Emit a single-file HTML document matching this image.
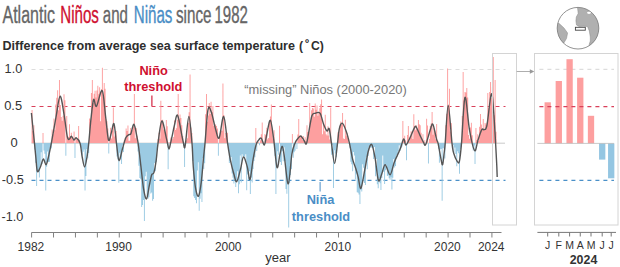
<!DOCTYPE html>
<html><head><meta charset="utf-8"><style>
html,body{margin:0;padding:0;background:#fff;width:620px;height:267px;overflow:hidden}
svg{display:block}
text{font-family:"Liberation Sans", sans-serif}
</style></head><body>
<svg width="620" height="267" viewBox="0 0 620 267">
<g font-size="23" fill="#666" stroke-width="0.35">
<text x="2.5" y="23" textLength="52.5" lengthAdjust="spacingAndGlyphs" stroke="#666">Atlantic</text>
<text x="60.3" y="23" textLength="38.6" lengthAdjust="spacingAndGlyphs" fill="#cf1030" stroke="#cf1030">Niños</text>
<text x="102.8" y="23" textLength="25.2" lengthAdjust="spacingAndGlyphs" stroke="#666">and</text>
<text x="133.8" y="23" textLength="38.6" lengthAdjust="spacingAndGlyphs" fill="#4a8ec6" stroke="#4a8ec6">Niñas</text>
<text x="176" y="23" textLength="35.5" lengthAdjust="spacingAndGlyphs" stroke="#666">since</text>
<text x="214.5" y="23" textLength="33.4" lengthAdjust="spacingAndGlyphs" stroke="#666">1982</text>
</g>
<text x="2.5" y="49.5" font-size="12.2" font-weight="bold" fill="#2e2e2e" textLength="292.5" lengthAdjust="spacingAndGlyphs">Difference from average sea surface temperature</text>
<text x="299" y="49.5" font-size="12.2" font-weight="bold" fill="#2e2e2e">(</text>
<text x="304.8" y="47" font-size="11.5" fill="#2e2e2e" stroke="#2e2e2e" stroke-width="0.3">°</text>
<text x="311" y="49.5" font-size="12.2" font-weight="bold" fill="#2e2e2e">C)</text>

<g font-size="12.5" fill="#333">
<text x="4.6" y="73" textLength="17.6" lengthAdjust="spacingAndGlyphs">1.0</text>
<text x="4.2" y="109.6" textLength="17.9" lengthAdjust="spacingAndGlyphs">0.5</text>
<text x="10.5" y="146.6" textLength="7.2" lengthAdjust="spacingAndGlyphs">0</text>
<text x="1.8" y="184.2" textLength="22" lengthAdjust="spacingAndGlyphs">-0.5</text>
<text x="1.6" y="220.6" textLength="21.8" lengthAdjust="spacingAndGlyphs">-1.0</text>
</g>

<line x1="31.5" y1="143.2" x2="505" y2="143.2" stroke="#bbb" stroke-width="0.8"/>
<line x1="31.5" y1="69.5" x2="505.5" y2="69.5" stroke="#ddd" stroke-width="1.2" stroke-dasharray="4 4"/>
<line x1="31.5" y1="106.5" x2="505.5" y2="106.5" stroke="#d9405a" stroke-width="1.2" stroke-dasharray="4 4"/>
<line x1="31.5" y1="180.3" x2="505.5" y2="180.3" stroke="#4a90c8" stroke-width="1.2" stroke-dasharray="4 4"/>
<path d="M31.58 143.0V110.00h0.959V143.0zM32.49 143.0V130.97h0.959V143.0zM33.40 143.0V125.31h0.959V143.0zM42.54 143.0V133.00h0.959V143.0zM51.67 143.0V129.48h0.959V143.0zM52.58 143.0V134.34h0.959V143.0zM53.50 143.0V118.55h0.959V143.0zM54.41 143.0V130.28h0.959V143.0zM55.32 143.0V104.45h0.959V143.0zM56.24 143.0V97.85h0.959V143.0zM57.15 143.0V90.27h0.959V143.0zM58.06 143.0V110.34h0.959V143.0zM58.98 143.0V80.00h0.959V143.0zM59.89 143.0V105.06h0.959V143.0zM60.80 143.0V117.08h0.959V143.0zM61.72 143.0V120.76h0.959V143.0zM62.63 143.0V115.70h0.959V143.0zM63.54 143.0V94.29h0.959V143.0zM64.46 143.0V100.34h0.959V143.0zM66.28 143.0V115.93h0.959V143.0zM67.20 143.0V138.81h0.959V143.0zM68.11 143.0V136.80h0.959V143.0zM69.02 143.0V124.30h0.959V143.0zM69.94 143.0V136.31h0.959V143.0zM70.85 143.0V132.74h0.959V143.0zM71.76 143.0V136.67h0.959V143.0zM72.68 143.0V140.10h0.959V143.0zM73.59 143.0V131.54h0.959V143.0zM75.42 143.0V138.61h0.959V143.0zM76.33 143.0V139.51h0.959V143.0zM77.24 143.0V139.12h0.959V143.0zM78.16 143.0V126.00h0.959V143.0zM79.07 143.0V141.79h0.959V143.0zM89.12 143.0V118.42h0.959V143.0zM90.03 143.0V126.38h0.959V143.0zM90.94 143.0V93.07h0.959V143.0zM91.86 143.0V80.00h0.959V143.0zM92.77 143.0V102.97h0.959V143.0zM93.68 143.0V93.71h0.959V143.0zM94.60 143.0V90.65h0.959V143.0zM95.51 143.0V97.48h0.959V143.0zM96.42 143.0V90.45h0.959V143.0zM97.34 143.0V85.66h0.959V143.0zM98.25 143.0V94.28h0.959V143.0zM99.16 143.0V87.28h0.959V143.0zM100.08 143.0V121.16h0.959V143.0zM100.99 143.0V89.22h0.959V143.0zM101.90 143.0V67.80h0.959V143.0zM102.82 143.0V97.14h0.959V143.0zM103.73 143.0V83.07h0.959V143.0zM104.64 143.0V88.72h0.959V143.0zM105.56 143.0V119.45h0.959V143.0zM106.47 143.0V121.15h0.959V143.0zM107.38 143.0V128.61h0.959V143.0zM109.21 143.0V137.17h0.959V143.0zM110.12 143.0V127.77h0.959V143.0zM111.04 143.0V138.46h0.959V143.0zM111.95 143.0V130.57h0.959V143.0zM112.86 143.0V107.50h0.959V143.0zM113.78 143.0V136.44h0.959V143.0zM114.69 143.0V134.97h0.959V143.0zM115.60 143.0V130.92h0.959V143.0zM123.82 143.0V140.16h0.959V143.0zM124.74 143.0V137.64h0.959V143.0zM125.65 143.0V128.38h0.959V143.0zM126.56 143.0V131.00h0.959V143.0zM127.48 143.0V125.40h0.959V143.0zM128.39 143.0V140.68h0.959V143.0zM129.30 143.0V140.69h0.959V143.0zM130.22 143.0V127.94h0.959V143.0zM131.13 143.0V130.36h0.959V143.0zM132.04 143.0V130.16h0.959V143.0zM132.96 143.0V126.52h0.959V143.0zM133.87 143.0V94.00h0.959V143.0zM134.78 143.0V138.23h0.959V143.0zM135.70 143.0V127.96h0.959V143.0zM136.61 143.0V135.85h0.959V143.0zM157.62 143.0V139.09h0.959V143.0zM158.53 143.0V132.71h0.959V143.0zM159.44 143.0V138.80h0.959V143.0zM160.36 143.0V100.70h0.959V143.0zM161.27 143.0V120.51h0.959V143.0zM162.18 143.0V119.68h0.959V143.0zM163.10 143.0V129.56h0.959V143.0zM164.01 143.0V129.27h0.959V143.0zM164.92 143.0V135.24h0.959V143.0zM165.84 143.0V120.00h0.959V143.0zM166.75 143.0V126.28h0.959V143.0zM168.58 143.0V142.03h0.959V143.0zM169.49 143.0V142.92h0.959V143.0zM170.40 143.0V137.39h0.959V143.0zM171.32 143.0V138.35h0.959V143.0zM172.23 143.0V139.28h0.959V143.0zM173.14 143.0V137.08h0.959V143.0zM174.06 143.0V120.50h0.959V143.0zM174.97 143.0V130.02h0.959V143.0zM175.88 143.0V128.30h0.959V143.0zM176.80 143.0V119.69h0.959V143.0zM177.71 143.0V94.00h0.959V143.0zM178.62 143.0V119.40h0.959V143.0zM179.54 143.0V114.42h0.959V143.0zM180.45 143.0V117.94h0.959V143.0zM181.36 143.0V125.35h0.959V143.0zM182.28 143.0V136.03h0.959V143.0zM183.19 143.0V141.58h0.959V143.0zM185.93 143.0V140.17h0.959V143.0zM186.84 143.0V138.36h0.959V143.0zM187.76 143.0V122.89h0.959V143.0zM188.67 143.0V112.15h0.959V143.0zM189.58 143.0V74.50h0.959V143.0zM190.50 143.0V127.52h0.959V143.0zM191.41 143.0V132.91h0.959V143.0zM205.11 143.0V114.29h0.959V143.0zM206.02 143.0V94.00h0.959V143.0zM206.94 143.0V121.69h0.959V143.0zM207.85 143.0V115.42h0.959V143.0zM208.76 143.0V103.11h0.959V143.0zM209.68 143.0V114.11h0.959V143.0zM210.59 143.0V101.79h0.959V143.0zM211.50 143.0V112.00h0.959V143.0zM212.42 143.0V106.12h0.959V143.0zM213.33 143.0V125.75h0.959V143.0zM214.24 143.0V124.39h0.959V143.0zM215.16 143.0V124.62h0.959V143.0zM216.07 143.0V125.89h0.959V143.0zM216.98 143.0V128.52h0.959V143.0zM218.81 143.0V135.46h0.959V143.0zM219.72 143.0V132.91h0.959V143.0zM220.64 143.0V130.62h0.959V143.0zM221.55 143.0V130.85h0.959V143.0zM222.46 143.0V83.60h0.959V143.0zM223.38 143.0V114.89h0.959V143.0zM224.29 143.0V138.20h0.959V143.0zM225.20 143.0V133.12h0.959V143.0zM226.12 143.0V137.37h0.959V143.0zM227.03 143.0V132.69h0.959V143.0zM255.34 143.0V128.00h0.959V143.0zM257.17 143.0V142.30h0.959V143.0zM258.08 143.0V142.15h0.959V143.0zM259.91 143.0V140.18h0.959V143.0zM260.82 143.0V134.34h0.959V143.0zM261.74 143.0V122.50h0.959V143.0zM262.65 143.0V141.70h0.959V143.0zM264.48 143.0V134.12h0.959V143.0zM265.39 143.0V134.98h0.959V143.0zM266.30 143.0V127.81h0.959V143.0zM267.22 143.0V139.38h0.959V143.0zM268.13 143.0V138.07h0.959V143.0zM269.04 143.0V121.18h0.959V143.0zM269.96 143.0V116.42h0.959V143.0zM270.87 143.0V104.50h0.959V143.0zM271.78 143.0V129.54h0.959V143.0zM272.70 143.0V138.84h0.959V143.0zM273.61 143.0V130.32h0.959V143.0zM279.09 143.0V125.80h0.959V143.0zM291.88 143.0V134.00h0.959V143.0zM295.53 143.0V141.02h0.959V143.0zM297.36 143.0V134.44h0.959V143.0zM298.27 143.0V119.10h0.959V143.0zM299.18 143.0V135.69h0.959V143.0zM300.10 143.0V136.11h0.959V143.0zM301.01 143.0V135.43h0.959V143.0zM301.92 143.0V140.01h0.959V143.0zM302.84 143.0V136.02h0.959V143.0zM303.75 143.0V141.09h0.959V143.0zM304.66 143.0V137.33h0.959V143.0zM305.58 143.0V140.90h0.959V143.0zM306.49 143.0V125.27h0.959V143.0zM307.40 143.0V131.91h0.959V143.0zM308.32 143.0V133.33h0.959V143.0zM309.23 143.0V103.00h0.959V143.0zM310.14 143.0V120.97h0.959V143.0zM311.06 143.0V110.29h0.959V143.0zM311.97 143.0V107.99h0.959V143.0zM312.88 143.0V108.51h0.959V143.0zM313.80 143.0V116.78h0.959V143.0zM314.71 143.0V103.40h0.959V143.0zM315.62 143.0V109.70h0.959V143.0zM316.54 143.0V105.43h0.959V143.0zM317.45 143.0V115.67h0.959V143.0zM318.36 143.0V112.19h0.959V143.0zM319.28 143.0V108.31h0.959V143.0zM320.19 143.0V104.35h0.959V143.0zM321.10 143.0V99.60h0.959V143.0zM322.02 143.0V134.19h0.959V143.0zM322.93 143.0V124.38h0.959V143.0zM323.84 143.0V131.35h0.959V143.0zM324.76 143.0V114.76h0.959V143.0zM325.67 143.0V134.35h0.959V143.0zM326.58 143.0V135.48h0.959V143.0zM327.50 143.0V126.30h0.959V143.0zM328.41 143.0V135.41h0.959V143.0zM329.32 143.0V139.61h0.959V143.0zM330.24 143.0V107.50h0.959V143.0zM337.54 143.0V132.13h0.959V143.0zM338.46 143.0V134.59h0.959V143.0zM339.37 143.0V126.21h0.959V143.0zM340.28 143.0V121.55h0.959V143.0zM341.20 143.0V124.48h0.959V143.0zM342.11 143.0V113.10h0.959V143.0zM343.02 143.0V138.61h0.959V143.0zM343.94 143.0V139.06h0.959V143.0zM344.85 143.0V119.68h0.959V143.0zM345.76 143.0V135.69h0.959V143.0zM346.68 143.0V133.16h0.959V143.0zM347.59 143.0V138.21h0.959V143.0zM402.39 143.0V121.00h0.959V143.0zM403.30 143.0V139.58h0.959V143.0zM404.22 143.0V135.68h0.959V143.0zM405.13 143.0V140.18h0.959V143.0zM406.96 143.0V135.01h0.959V143.0zM407.87 143.0V126.00h0.959V143.0zM408.78 143.0V141.29h0.959V143.0zM409.70 143.0V136.86h0.959V143.0zM410.61 143.0V131.22h0.959V143.0zM411.52 143.0V132.52h0.959V143.0zM412.44 143.0V139.00h0.959V143.0zM413.35 143.0V114.20h0.959V143.0zM414.26 143.0V125.89h0.959V143.0zM415.18 143.0V130.22h0.959V143.0zM416.09 143.0V125.22h0.959V143.0zM417.00 143.0V129.39h0.959V143.0zM417.92 143.0V120.00h0.959V143.0zM418.83 143.0V124.13h0.959V143.0zM419.74 143.0V125.36h0.959V143.0zM420.66 143.0V132.86h0.959V143.0zM421.57 143.0V138.72h0.959V143.0zM422.48 143.0V134.35h0.959V143.0zM423.40 143.0V142.43h0.959V143.0zM424.31 143.0V140.14h0.959V143.0zM425.22 143.0V142.94h0.959V143.0zM426.14 143.0V118.70h0.959V143.0zM427.05 143.0V125.38h0.959V143.0zM428.88 143.0V139.07h0.959V143.0zM429.79 143.0V125.88h0.959V143.0zM430.70 143.0V123.46h0.959V143.0zM431.62 143.0V112.00h0.959V143.0zM432.53 143.0V134.85h0.959V143.0zM433.44 143.0V128.36h0.959V143.0zM434.36 143.0V130.75h0.959V143.0zM435.27 143.0V139.31h0.959V143.0zM436.18 143.0V124.00h0.959V143.0zM437.10 143.0V142.64h0.959V143.0zM445.32 143.0V125.24h0.959V143.0zM446.23 143.0V113.79h0.959V143.0zM447.14 143.0V68.50h0.959V143.0zM448.06 143.0V107.13h0.959V143.0zM448.97 143.0V88.70h0.959V143.0zM449.88 143.0V131.61h0.959V143.0zM450.80 143.0V122.94h0.959V143.0zM461.76 143.0V115.99h0.959V143.0zM462.67 143.0V71.90h0.959V143.0zM463.58 143.0V100.61h0.959V143.0zM464.50 143.0V92.00h0.959V143.0zM465.41 143.0V92.50h0.959V143.0zM466.32 143.0V87.93h0.959V143.0zM467.24 143.0V97.43h0.959V143.0zM468.15 143.0V135.06h0.959V143.0zM469.06 143.0V138.63h0.959V143.0zM469.98 143.0V127.41h0.959V143.0zM470.89 143.0V122.63h0.959V143.0zM471.80 143.0V135.27h0.959V143.0zM475.46 143.0V128.00h0.959V143.0zM476.37 143.0V140.07h0.959V143.0zM477.28 143.0V134.24h0.959V143.0zM478.20 143.0V140.80h0.959V143.0zM479.11 143.0V126.83h0.959V143.0zM480.02 143.0V114.00h0.959V143.0zM480.94 143.0V124.48h0.959V143.0zM481.85 143.0V128.73h0.959V143.0zM482.76 143.0V119.00h0.959V143.0zM483.68 143.0V129.66h0.959V143.0zM484.59 143.0V122.94h0.959V143.0zM485.50 143.0V124.42h0.959V143.0zM486.42 143.0V122.79h0.959V143.0zM487.33 143.0V93.07h0.959V143.0zM488.24 143.0V108.16h0.959V143.0zM489.16 143.0V92.08h0.959V143.0zM490.07 143.0V82.00h0.959V143.0zM490.98 143.0V98.36h0.959V143.0zM491.90 143.0V87.32h0.959V143.0zM492.81 143.0V57.00h0.959V143.0zM493.72 143.0V115.20h0.959V143.0zM494.64 143.0V80.00h0.959V143.0zM495.55 143.0V131.82h0.959V143.0z" fill="#fd9f9f"/>
<path d="M34.32 143.0V149.39h0.959V143.0zM35.23 143.0V162.79h0.959V143.0zM36.14 143.0V186.00h0.959V143.0zM37.06 143.0V171.30h0.959V143.0zM37.97 143.0V171.47h0.959V143.0zM38.88 143.0V177.40h0.959V143.0zM39.80 143.0V167.68h0.959V143.0zM40.71 143.0V152.36h0.959V143.0zM41.62 143.0V164.37h0.959V143.0zM43.45 143.0V150.41h0.959V143.0zM44.36 143.0V153.75h0.959V143.0zM45.28 143.0V190.60h0.959V143.0zM46.19 143.0V166.68h0.959V143.0zM47.10 143.0V151.57h0.959V143.0zM48.02 143.0V162.04h0.959V143.0zM48.93 143.0V161.79h0.959V143.0zM49.84 143.0V147.68h0.959V143.0zM50.76 143.0V148.42h0.959V143.0zM65.37 143.0V155.70h0.959V143.0zM74.50 143.0V158.00h0.959V143.0zM79.98 143.0V145.47h0.959V143.0zM80.90 143.0V148.38h0.959V143.0zM81.81 143.0V155.40h0.959V143.0zM82.72 143.0V151.67h0.959V143.0zM83.64 143.0V149.47h0.959V143.0zM84.55 143.0V190.60h0.959V143.0zM85.46 143.0V175.97h0.959V143.0zM86.38 143.0V148.96h0.959V143.0zM87.29 143.0V158.28h0.959V143.0zM88.20 143.0V153.00h0.959V143.0zM108.30 143.0V153.50h0.959V143.0zM116.52 143.0V156.55h0.959V143.0zM117.43 143.0V159.39h0.959V143.0zM118.34 143.0V182.70h0.959V143.0zM119.26 143.0V152.68h0.959V143.0zM120.17 143.0V158.40h0.959V143.0zM121.08 143.0V164.06h0.959V143.0zM122.00 143.0V145.49h0.959V143.0zM122.91 143.0V152.00h0.959V143.0zM137.52 143.0V151.52h0.959V143.0zM138.44 143.0V165.64h0.959V143.0zM139.35 143.0V178.07h0.959V143.0zM140.26 143.0V179.23h0.959V143.0zM141.18 143.0V206.89h0.959V143.0zM142.09 143.0V205.00h0.959V143.0zM143.00 143.0V200.07h0.959V143.0zM143.92 143.0V221.00h0.959V143.0zM144.83 143.0V176.32h0.959V143.0zM145.74 143.0V171.86h0.959V143.0zM146.66 143.0V196.02h0.959V143.0zM147.57 143.0V198.71h0.959V143.0zM148.48 143.0V197.32h0.959V143.0zM149.40 143.0V184.60h0.959V143.0zM150.31 143.0V193.61h0.959V143.0zM151.22 143.0V192.60h0.959V143.0zM152.14 143.0V200.83h0.959V143.0zM153.05 143.0V199.00h0.959V143.0zM153.96 143.0V163.18h0.959V143.0zM154.88 143.0V171.17h0.959V143.0zM155.79 143.0V161.92h0.959V143.0zM156.70 143.0V149.68h0.959V143.0zM167.66 143.0V169.20h0.959V143.0zM184.10 143.0V167.00h0.959V143.0zM185.02 143.0V144.27h0.959V143.0zM192.32 143.0V161.02h0.959V143.0zM193.24 143.0V196.17h0.959V143.0zM194.15 143.0V198.02h0.959V143.0zM195.06 143.0V200.06h0.959V143.0zM195.98 143.0V203.32h0.959V143.0zM196.89 143.0V170.54h0.959V143.0zM197.80 143.0V162.15h0.959V143.0zM198.72 143.0V210.80h0.959V143.0zM199.63 143.0V198.67h0.959V143.0zM200.54 143.0V193.16h0.959V143.0zM201.46 143.0V201.99h0.959V143.0zM202.37 143.0V158.20h0.959V143.0zM203.28 143.0V168.99h0.959V143.0zM204.20 143.0V163.26h0.959V143.0zM217.90 143.0V155.70h0.959V143.0zM227.94 143.0V150.34h0.959V143.0zM228.86 143.0V163.12h0.959V143.0zM229.77 143.0V161.32h0.959V143.0zM230.68 143.0V156.99h0.959V143.0zM231.60 143.0V173.50h0.959V143.0zM232.51 143.0V177.67h0.959V143.0zM233.42 143.0V183.43h0.959V143.0zM234.34 143.0V179.73h0.959V143.0zM235.25 143.0V187.00h0.959V143.0zM236.16 143.0V181.10h0.959V143.0zM237.08 143.0V171.15h0.959V143.0zM237.99 143.0V193.33h0.959V143.0zM238.90 143.0V184.27h0.959V143.0zM239.82 143.0V155.47h0.959V143.0zM240.73 143.0V182.46h0.959V143.0zM241.64 143.0V154.15h0.959V143.0zM242.56 143.0V156.45h0.959V143.0zM243.47 143.0V156.26h0.959V143.0zM244.38 143.0V158.31h0.959V143.0zM245.30 143.0V154.15h0.959V143.0zM246.21 143.0V190.24h0.959V143.0zM247.12 143.0V174.47h0.959V143.0zM248.04 143.0V180.05h0.959V143.0zM248.95 143.0V171.23h0.959V143.0zM249.86 143.0V194.00h0.959V143.0zM250.78 143.0V177.51h0.959V143.0zM251.69 143.0V182.56h0.959V143.0zM252.60 143.0V168.99h0.959V143.0zM253.52 143.0V161.05h0.959V143.0zM254.43 143.0V157.16h0.959V143.0zM256.26 143.0V150.98h0.959V143.0zM259.00 143.0V145.32h0.959V143.0zM263.56 143.0V144.10h0.959V143.0zM274.52 143.0V155.97h0.959V143.0zM275.44 143.0V194.00h0.959V143.0zM276.35 143.0V167.03h0.959V143.0zM277.26 143.0V151.14h0.959V143.0zM278.18 143.0V154.87h0.959V143.0zM280.00 143.0V162.00h0.959V143.0zM280.92 143.0V165.09h0.959V143.0zM281.83 143.0V151.00h0.959V143.0zM282.74 143.0V161.18h0.959V143.0zM283.66 143.0V147.21h0.959V143.0zM284.57 143.0V161.31h0.959V143.0zM285.48 143.0V189.07h0.959V143.0zM286.40 143.0V193.71h0.959V143.0zM287.31 143.0V182.91h0.959V143.0zM288.22 143.0V227.60h0.959V143.0zM289.14 143.0V183.23h0.959V143.0zM290.05 143.0V175.12h0.959V143.0zM290.96 143.0V169.25h0.959V143.0zM292.79 143.0V157.82h0.959V143.0zM293.70 143.0V152.33h0.959V143.0zM294.62 143.0V150.87h0.959V143.0zM296.44 143.0V149.07h0.959V143.0zM331.15 143.0V154.69h0.959V143.0zM332.06 143.0V145.35h0.959V143.0zM332.98 143.0V188.00h0.959V143.0zM333.89 143.0V150.32h0.959V143.0zM334.80 143.0V153.55h0.959V143.0zM335.72 143.0V157.23h0.959V143.0zM336.63 143.0V147.31h0.959V143.0zM348.50 143.0V143.75h0.959V143.0zM349.42 143.0V147.65h0.959V143.0zM350.33 143.0V161.74h0.959V143.0zM351.24 143.0V164.29h0.959V143.0zM352.16 143.0V171.29h0.959V143.0zM353.07 143.0V151.95h0.959V143.0zM353.98 143.0V155.50h0.959V143.0zM354.90 143.0V179.56h0.959V143.0zM355.81 143.0V173.50h0.959V143.0zM356.72 143.0V192.31h0.959V143.0zM357.64 143.0V192.68h0.959V143.0zM358.55 143.0V194.49h0.959V143.0zM359.46 143.0V204.00h0.959V143.0zM360.38 143.0V189.66h0.959V143.0zM361.29 143.0V191.46h0.959V143.0zM362.20 143.0V164.17h0.959V143.0zM363.12 143.0V167.87h0.959V143.0zM364.03 143.0V182.95h0.959V143.0zM364.94 143.0V185.07h0.959V143.0zM365.86 143.0V157.24h0.959V143.0zM366.77 143.0V169.25h0.959V143.0zM367.68 143.0V155.97h0.959V143.0zM368.60 143.0V146.95h0.959V143.0zM369.51 143.0V147.30h0.959V143.0zM370.42 143.0V147.68h0.959V143.0zM371.34 143.0V147.38h0.959V143.0zM372.25 143.0V147.42h0.959V143.0zM373.16 143.0V158.92h0.959V143.0zM374.08 143.0V146.95h0.959V143.0zM374.99 143.0V176.23h0.959V143.0zM375.90 143.0V158.90h0.959V143.0zM376.82 143.0V184.18h0.959V143.0zM377.73 143.0V188.30h0.959V143.0zM378.64 143.0V178.15h0.959V143.0zM379.56 143.0V183.16h0.959V143.0zM380.47 143.0V189.95h0.959V143.0zM381.38 143.0V177.93h0.959V143.0zM382.30 143.0V155.39h0.959V143.0zM383.21 143.0V171.70h0.959V143.0zM384.12 143.0V183.93h0.959V143.0zM385.04 143.0V170.29h0.959V143.0zM385.95 143.0V165.17h0.959V143.0zM386.86 143.0V175.91h0.959V143.0zM387.78 143.0V175.21h0.959V143.0zM388.69 143.0V178.15h0.959V143.0zM389.60 143.0V179.82h0.959V143.0zM390.52 143.0V177.18h0.959V143.0zM391.43 143.0V189.50h0.959V143.0zM392.34 143.0V177.70h0.959V143.0zM393.26 143.0V158.96h0.959V143.0zM394.17 143.0V167.57h0.959V143.0zM395.08 143.0V165.92h0.959V143.0zM396.00 143.0V155.24h0.959V143.0zM396.91 143.0V156.38h0.959V143.0zM397.82 143.0V151.07h0.959V143.0zM398.74 143.0V145.27h0.959V143.0zM399.65 143.0V150.70h0.959V143.0zM400.56 143.0V148.23h0.959V143.0zM401.48 143.0V146.56h0.959V143.0zM406.04 143.0V160.20h0.959V143.0zM427.96 143.0V163.60h0.959V143.0zM438.01 143.0V148.74h0.959V143.0zM438.92 143.0V162.80h0.959V143.0zM439.84 143.0V149.59h0.959V143.0zM440.75 143.0V149.07h0.959V143.0zM441.66 143.0V200.70h0.959V143.0zM442.58 143.0V148.15h0.959V143.0zM443.49 143.0V148.40h0.959V143.0zM444.40 143.0V158.57h0.959V143.0zM451.71 143.0V143.27h0.959V143.0zM452.62 143.0V145.02h0.959V143.0zM453.54 143.0V152.77h0.959V143.0zM454.45 143.0V147.55h0.959V143.0zM455.36 143.0V154.03h0.959V143.0zM456.28 143.0V166.22h0.959V143.0zM457.19 143.0V151.15h0.959V143.0zM458.10 143.0V153.25h0.959V143.0zM459.02 143.0V173.70h0.959V143.0zM459.93 143.0V149.12h0.959V143.0zM460.84 143.0V147.18h0.959V143.0zM472.72 143.0V150.56h0.959V143.0zM473.63 143.0V145.50h0.959V143.0zM474.54 143.0V164.00h0.959V143.0z" fill="#9ccbe3"/>
<path d="M31.40 113.00C31.92 118.07 33.75 135.90 34.50 143.40C35.25 150.90 35.42 153.32 35.90 158.00C36.38 162.68 36.65 170.00 37.40 171.50C38.15 173.00 39.42 169.07 40.40 167.00C41.38 164.93 42.37 159.48 43.30 159.10C44.23 158.72 45.18 164.88 46.00 164.70C46.82 164.52 47.32 161.55 48.20 158.00C49.08 154.45 49.98 150.32 51.30 143.40C52.62 136.48 54.63 124.37 56.10 116.50C57.57 108.63 58.78 96.58 60.10 96.20C61.42 95.82 62.80 107.45 64.00 114.20C65.20 120.95 66.37 132.57 67.30 136.70C68.23 140.83 68.92 139.08 69.60 139.00C70.28 138.92 70.67 136.03 71.40 136.20C72.13 136.37 73.18 139.73 74.00 140.00C74.82 140.27 75.28 137.23 76.30 137.80C77.32 138.37 79.12 140.20 80.10 143.40C81.08 146.60 81.45 153.07 82.20 157.00C82.95 160.93 83.80 167.00 84.60 167.00C85.40 167.00 86.32 160.93 87.00 157.00C87.68 153.07 88.03 149.78 88.70 143.40C89.37 137.02 90.18 126.00 91.00 118.70C91.82 111.40 92.68 101.67 93.60 99.60C94.52 97.53 95.07 107.80 96.50 106.30C97.93 104.80 100.68 88.90 102.20 90.60C103.72 92.30 104.55 108.27 105.60 116.50C106.65 124.73 107.57 137.20 108.50 140.00C109.43 142.80 110.28 136.02 111.20 133.30C112.12 130.58 113.12 121.98 114.00 123.70C114.88 125.42 115.67 137.48 116.50 143.60C117.33 149.72 117.97 159.67 119.00 160.40C120.03 161.13 121.57 151.78 122.70 148.00C123.83 144.22 124.77 139.93 125.80 137.70C126.83 135.47 128.05 135.28 128.90 134.60C129.75 133.92 130.05 135.32 130.90 133.60C131.75 131.88 132.97 123.62 134.00 124.30C135.03 124.98 136.35 134.08 137.10 137.70C137.85 141.32 137.85 141.12 138.50 146.00C139.15 150.88 140.17 159.95 141.00 167.00C141.83 174.05 142.58 182.98 143.50 188.30C144.42 193.62 145.52 199.45 146.50 198.90C147.48 198.35 148.53 189.02 149.40 185.00C150.27 180.98 150.95 176.87 151.70 174.80C152.45 172.73 153.15 175.03 153.90 172.60C154.65 170.17 155.52 165.07 156.20 160.20C156.88 155.33 157.07 149.93 158.00 143.40C158.93 136.87 160.42 121.93 161.80 121.00C163.18 120.07 165.35 134.07 166.30 137.80C167.25 141.53 167.05 141.53 167.50 143.40C167.95 145.27 168.50 149.00 169.00 149.00C169.50 149.00 170.00 145.45 170.50 143.40C171.00 141.35 171.33 139.77 172.00 136.70C172.67 133.63 173.57 128.57 174.50 125.00C175.43 121.43 176.33 113.35 177.60 115.30C178.87 117.25 181.12 132.02 182.10 136.70C183.08 141.38 183.12 141.53 183.50 143.40C183.88 145.27 184.07 147.90 184.40 147.90C184.73 147.90 184.75 148.63 185.50 143.40C186.25 138.17 187.82 116.50 188.90 116.50C189.98 116.50 191.27 134.98 192.00 143.40C192.73 151.82 192.70 159.52 193.30 167.00C193.90 174.48 194.73 183.43 195.60 188.30C196.47 193.17 197.57 197.13 198.50 196.20C199.43 195.27 200.37 189.07 201.20 182.70C202.03 176.33 202.87 164.55 203.50 158.00C204.13 151.45 204.25 151.45 205.00 143.40C205.75 135.35 206.95 114.93 208.00 109.70C209.05 104.47 210.00 108.62 211.30 112.00C212.60 115.38 214.48 125.70 215.80 130.00C217.12 134.30 217.88 140.05 219.20 137.80C220.52 135.55 222.30 115.57 223.70 116.50C225.10 117.43 226.48 136.12 227.60 143.40C228.72 150.68 229.37 155.15 230.40 160.20C231.43 165.25 232.75 170.13 233.80 173.70C234.85 177.27 235.58 182.35 236.70 181.60C237.82 180.85 239.37 173.32 240.50 169.20C241.63 165.08 242.37 157.27 243.50 156.90C244.63 156.53 246.22 163.23 247.30 167.00C248.38 170.77 249.05 180.67 250.00 179.50C250.95 178.33 252.00 165.75 253.00 160.00C254.00 154.25 255.10 148.27 256.00 145.00C256.90 141.73 257.52 141.53 258.40 140.40C259.28 139.27 260.32 137.43 261.30 138.20C262.28 138.97 263.43 145.37 264.30 145.00C265.17 144.63 265.50 140.13 266.50 136.00C267.50 131.87 269.10 119.65 270.30 120.20C271.50 120.75 272.58 131.43 273.70 139.30C274.82 147.17 275.95 164.95 277.00 167.40C278.05 169.85 279.12 157.50 280.00 154.00C280.88 150.50 281.57 145.90 282.30 146.40C283.03 146.90 283.40 150.75 284.40 157.00C285.40 163.25 287.05 184.40 288.30 183.90C289.55 183.40 290.80 160.75 291.90 154.00C293.00 147.25 294.00 145.85 294.90 143.40C295.80 140.95 296.33 140.53 297.30 139.30C298.27 138.07 299.58 135.82 300.70 136.00C301.82 136.18 303.07 139.10 304.00 140.40C304.93 141.70 305.55 144.92 306.30 143.80C307.05 142.68 307.57 138.38 308.50 133.70C309.43 129.02 310.77 119.10 311.90 115.70C313.03 112.30 313.95 113.72 315.30 113.30C316.65 112.88 318.62 111.37 320.00 113.20C321.38 115.03 322.43 121.33 323.60 124.30C324.77 127.27 326.07 130.25 327.00 131.00C327.93 131.75 328.45 126.73 329.20 128.80C329.95 130.87 330.60 137.60 331.50 143.40C332.40 149.20 333.60 163.60 334.60 163.60C335.60 163.60 336.72 149.20 337.50 143.40C338.28 137.60 338.52 132.17 339.30 128.80C340.08 125.43 341.07 122.83 342.20 123.20C343.33 123.57 344.88 127.63 346.10 131.00C347.32 134.37 348.42 138.72 349.50 143.40C350.58 148.08 351.52 154.80 352.60 159.10C353.68 163.40 355.07 166.20 356.00 169.20C356.93 172.20 357.38 173.92 358.20 177.10C359.02 180.28 359.78 189.62 360.90 188.30C362.02 186.98 363.67 175.38 364.90 169.20C366.13 163.02 367.17 155.32 368.30 151.20C369.43 147.08 370.57 143.37 371.70 144.50C372.83 145.63 373.98 152.02 375.10 158.00C376.22 163.98 377.28 177.78 378.40 180.40C379.52 183.02 380.67 176.32 381.80 173.70C382.93 171.08 383.82 164.52 385.20 164.70C386.58 164.88 388.60 175.17 390.10 174.80C391.60 174.43 392.77 166.23 394.20 162.50C395.63 158.77 397.57 155.03 398.70 152.40C399.83 149.77 400.17 148.95 401.00 146.70C401.83 144.45 402.88 139.18 403.70 138.90C404.52 138.62 404.85 145.18 405.90 145.00C406.95 144.82 408.57 140.68 410.00 137.80C411.43 134.92 413.45 129.47 414.50 127.70C415.55 125.93 415.37 125.88 416.30 127.20C417.23 128.52 418.90 133.08 420.10 135.60C421.30 138.12 422.57 140.82 423.50 142.30C424.43 143.78 424.58 146.55 425.70 144.50C426.82 142.45 429.00 133.37 430.20 130.00C431.40 126.63 431.85 122.82 432.90 124.30C433.95 125.78 435.63 135.72 436.50 138.90C437.37 142.08 437.35 140.03 438.10 143.40C438.85 146.77 440.25 155.55 441.00 159.10C441.75 162.65 442.08 165.63 442.60 164.70C443.12 163.77 443.67 157.05 444.10 153.50C444.53 149.95 444.52 151.45 445.20 143.40C445.88 135.35 447.07 105.20 448.20 105.20C449.33 105.20 451.07 135.35 452.00 143.40C452.93 151.45 452.93 150.52 453.80 153.50C454.67 156.48 456.27 160.00 457.20 161.30C458.13 162.60 458.68 164.28 459.40 161.30C460.12 158.32 460.57 154.05 461.50 143.40C462.43 132.75 463.67 99.63 465.00 97.40C466.33 95.17 467.90 121.13 469.50 130.00C471.10 138.87 473.18 148.93 474.60 150.60C476.02 152.27 476.80 143.50 478.00 140.00C479.20 136.50 480.73 131.33 481.80 129.60C482.87 127.87 483.53 130.37 484.40 129.60C485.27 128.83 485.85 130.93 487.00 125.00C488.15 119.07 490.17 95.92 491.30 94.00C492.43 92.08 492.93 102.50 493.80 113.50C494.67 124.50 495.93 149.42 496.50 160.00C497.07 170.58 497.08 174.17 497.20 177.00" fill="none" stroke="#555" stroke-width="1.4"/>

<rect x="492.5" y="53.5" width="24" height="171.5" fill="none" stroke="#d4d4d4" stroke-width="1"/>
<line x1="516.7" y1="71.5" x2="531" y2="71.5" stroke="#999" stroke-width="0.8"/>
<path d="M534.3 71.5 L529.8 69.2 L529.8 73.8z" fill="#999"/>

<rect x="0" y="0" width="1" height="1" fill="none"/>
<g font-weight="bold" font-size="12.8">
<rect x="124.5" y="64" width="43" height="11" fill="#fff"/>
<text x="153.6" y="74.5" text-anchor="middle" fill="#cf1030">Niño</text>
<text x="153.3" y="90.8" text-anchor="middle" fill="#cf1030">threshold</text>
<text x="320.5" y="204.2" text-anchor="middle" fill="#4a8ec6">Niña</text>
<text x="321" y="221.2" text-anchor="middle" fill="#4a8ec6">threshold</text>
</g>
<line x1="151.9" y1="95.5" x2="151.9" y2="106" stroke="#cf1030" stroke-width="1.1"/>
<line x1="320.1" y1="182" x2="320.1" y2="191.5" stroke="#4a8ec6" stroke-width="1"/>
<text x="244.3" y="94" font-size="12" fill="#777" textLength="162.5" lengthAdjust="spacingAndGlyphs">“missing” Niños (2000-2020)</text>

<g stroke="#808080" stroke-width="1">
<line x1="31.5" y1="232.5" x2="501.5" y2="232.5"/>
<line x1="31.60" y1="232.5" x2="31.60" y2="237.5" /><line x1="53.52" y1="232.5" x2="53.52" y2="237.5" /><line x1="75.44" y1="232.5" x2="75.44" y2="237.5" /><line x1="97.36" y1="232.5" x2="97.36" y2="237.5" /><line x1="119.28" y1="232.5" x2="119.28" y2="237.5" /><line x1="141.20" y1="232.5" x2="141.20" y2="237.5" /><line x1="163.12" y1="232.5" x2="163.12" y2="237.5" /><line x1="185.04" y1="232.5" x2="185.04" y2="237.5" /><line x1="206.96" y1="232.5" x2="206.96" y2="237.5" /><line x1="228.88" y1="232.5" x2="228.88" y2="237.5" /><line x1="250.80" y1="232.5" x2="250.80" y2="237.5" /><line x1="272.72" y1="232.5" x2="272.72" y2="237.5" /><line x1="294.64" y1="232.5" x2="294.64" y2="237.5" /><line x1="316.56" y1="232.5" x2="316.56" y2="237.5" /><line x1="338.48" y1="232.5" x2="338.48" y2="237.5" /><line x1="360.40" y1="232.5" x2="360.40" y2="237.5" /><line x1="382.32" y1="232.5" x2="382.32" y2="237.5" /><line x1="404.24" y1="232.5" x2="404.24" y2="237.5" /><line x1="426.16" y1="232.5" x2="426.16" y2="237.5" /><line x1="448.08" y1="232.5" x2="448.08" y2="237.5" /><line x1="470.00" y1="232.5" x2="470.00" y2="237.5" /><line x1="491.92" y1="232.5" x2="491.92" y2="237.5" />
</g>
<g font-size="13" fill="#333" text-anchor="middle">
<text x="30.9" y="250.7" textLength="26.6" lengthAdjust="spacingAndGlyphs">1982</text>
<text x="118.6" y="250.7" textLength="26.6" lengthAdjust="spacingAndGlyphs">1990</text>
<text x="228.2" y="250.7" textLength="26.6" lengthAdjust="spacingAndGlyphs">2000</text>
<text x="337.8" y="250.7" textLength="26.6" lengthAdjust="spacingAndGlyphs">2010</text>
<text x="447.4" y="250.7" textLength="26.6" lengthAdjust="spacingAndGlyphs">2020</text>
<text x="491.2" y="250.7" textLength="26.6" lengthAdjust="spacingAndGlyphs">2024</text>
<text x="278" y="261.5">year</text>
</g>

<!-- right panel -->
<rect x="534.5" y="53.5" width="83.5" height="171.5" fill="none" stroke="#d4d4d4" stroke-width="1"/>
<line x1="539.4" y1="69.3" x2="614" y2="69.3" stroke="#ddd" stroke-width="1.2" stroke-dasharray="4 4"/>
<rect x="544.55" y="102.3" width="6.3" height="41.10" fill="#fd9f9f"/><rect x="555.65" y="81" width="6.3" height="62.40" fill="#fd9f9f"/><rect x="566.45" y="59.2" width="6.3" height="84.20" fill="#fd9f9f"/><rect x="577.10" y="77.7" width="6.3" height="65.70" fill="#fd9f9f"/><rect x="587.85" y="115.8" width="6.3" height="27.60" fill="#fd9f9f"/><rect x="599.05" y="143.4" width="6.3" height="16.20" fill="#94c6e2"/><rect x="608.05" y="143.4" width="6.3" height="34.90" fill="#94c6e2"/>
<line x1="537.4" y1="143.4" x2="614" y2="143.4" stroke="#bbb" stroke-width="0.8"/>
<line x1="539.4" y1="106.7" x2="614" y2="106.7" stroke="#d9405a" stroke-width="1.2" stroke-dasharray="4 4"/>
<line x1="539.4" y1="180.3" x2="614" y2="180.3" stroke="#4a90c8" stroke-width="1.2" stroke-dasharray="4 4"/>
<g stroke="#777" stroke-width="1">
<line x1="537.4" y1="232.4" x2="616" y2="232.4"/>
<line x1="547.70" y1="232.5" x2="547.70" y2="236.5"/><line x1="558.80" y1="232.5" x2="558.80" y2="236.5"/><line x1="569.60" y1="232.5" x2="569.60" y2="236.5"/><line x1="580.25" y1="232.5" x2="580.25" y2="236.5"/><line x1="591.00" y1="232.5" x2="591.00" y2="236.5"/><line x1="602.20" y1="232.5" x2="602.20" y2="236.5"/><line x1="611.20" y1="232.5" x2="611.20" y2="236.5"/>
</g>
<g font-size="10.5" fill="#333"><text x="547.70" y="248.8" text-anchor="middle">J</text><text x="558.80" y="248.8" text-anchor="middle">F</text><text x="569.60" y="248.8" text-anchor="middle">M</text><text x="580.25" y="248.8" text-anchor="middle">A</text><text x="591.00" y="248.8" text-anchor="middle">M</text><text x="602.20" y="248.8" text-anchor="middle">J</text><text x="611.20" y="248.8" text-anchor="middle">J</text></g>
<text x="583.5" y="263.8" font-size="12.4" font-weight="bold" fill="#333" text-anchor="middle">2024</text>

<!-- globe -->
<defs><clipPath id="gc"><circle cx="578" cy="28.2" r="20.8"/></clipPath></defs>
<circle cx="578" cy="28.2" r="20.8" fill="#fff"/>
<g clip-path="url(#gc)" fill="#b0b0b0" stroke="#888" stroke-width="0.5">
<path d="M577 4 L577.8 10 L578.2 13.5 L576.3 17 L575.9 21 L576.5 25 L579 26.4 L583.5 26.3 L587.5 26.5 L589.3 30.9 L590.3 37 L590.3 41 L589.3 44 L589 50 L602 50 L602 4 Z"/>
<path d="M555 22 L559.5 23.8 L564 28 L567.6 33 L566.5 38.5 L563.5 43.5 L561 48 L555 48 Z"/>
</g>
<circle cx="578" cy="28.2" r="20.8" fill="none" stroke="#777" stroke-width="0.8"/>
<ellipse cx="589" cy="12.8" rx="2" ry="1.1" fill="#fff"/>
<rect x="575.4" y="27.3" width="9.9" height="2.9" fill="#fff" stroke="#444" stroke-width="0.9"/>
</svg>
</body></html>
